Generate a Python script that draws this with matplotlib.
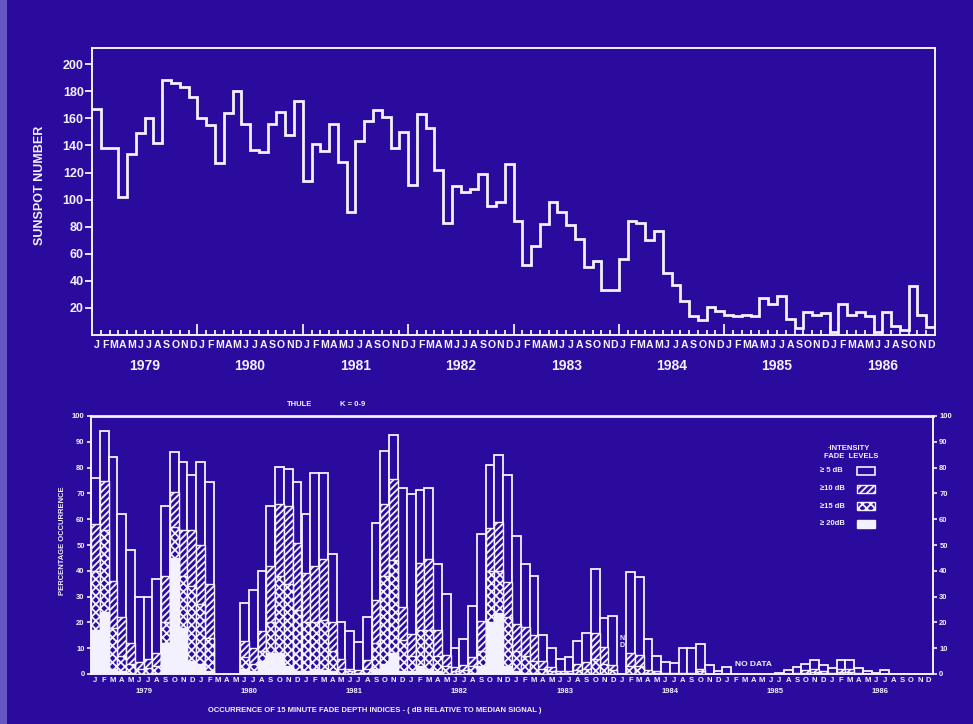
import numpy as np
import matplotlib
matplotlib.use("Agg")
import matplotlib.pyplot as plt
from matplotlib.patches import Rectangle

# ---------------------------------------------------------------- data
month_letters = list("JFMAMJJASOND")
years = ["1979", "1980", "1981", "1982", "1983", "1984", "1985", "1986"]

# Monthly sunspot number, Jan 1979 .. Dec 1986
sunspot = [
    167, 138, 138, 102, 134, 149, 160, 142, 188, 186, 183, 176,   # 1979
    160, 155, 127, 164, 180, 156, 137, 135, 156, 165, 148, 173,   # 1980
    114, 141, 136, 156, 128, 91, 143, 158, 166, 161, 138, 150,    # 1981
    111, 163, 153, 122, 83, 110, 106, 108, 119, 95, 98, 126,      # 1982
    84, 52, 66, 82, 98, 91, 81, 71, 50, 55, 33, 33,               # 1983
    56, 84, 83, 70, 77, 46, 37, 25, 14, 11, 21, 18,               # 1984
    15, 14, 15, 14, 27, 23, 29, 12, 5, 17, 15, 16,                # 1985
    2, 23, 15, 17, 14, 2, 17, 7, 4, 36, 15, 6,                    # 1986
]

# Thule, percentage occurrence of 15-minute fade depth indices (None = no data)
fade_5db = [
    76, 94, 84, 62, 48, 30, 30, 37, 65, 86, 82, 77,
    82, 74.5, None, None, None, 27.4, 32.6, 40, 65, 80.4, 79.3, 74.5,
    62, 77.8, 77.8, 46.5, 20, 16.7, 12.5, 22, 58.7, 86.6, 92.6, 72,
    69.8, 71.3, 72, 42.6, 31, 10.2, 13.4, 26.4, 54.3, 81, 85, 77,
    53.6, 42.6, 38, 15, 10, 5.7, 6.5, 12.8, 16, 40.7, 21.6, 22.6,
    None, 39.7, 37.5, 13.6, 7, 4.8, 4.1, 10, 10, 11.5, 3.5, 1.2,
    2.6, None, None, None, None, None, 0.5, 1.5, 2.8, 4, 5.6, 3.3,
    2.2, 5.3, 5.3, 2.2, 1.1, 0.5, 1.5, 0, 0, 0, 0, 0,
]
fade_10db = [
    58, 75, 36, 22, 12, 4.5, 6, 8, 38, 70.7, 56, 56,
    50, 35, None, None, None, 12.8, 10, 16.8, 42, 66, 65, 50.6,
    39, 42, 44.4, 20, 6, 2, 1.5, 5.4, 28.7, 66, 75.6, 26,
    15.4, 43, 44.6, 17, 7.4, 2.6, 3.5, 6.7, 20.7, 56.5, 59, 35.8,
    19.3, 18.3, 15, 5.2, 2.6, 1, 1, 3.7, 4.5, 16, 10.3, 3.5,
    None, 8, 7.4, 1.5, 1, 0.5, 0.5, 0.5, 0.5, 2, 0, 0,
    0, None, None, None, None, None, 0, 0, 0.5, 1.5, 2, 1,
    0.5, 2, 2, 0.5, 0, 0, 0, 0, 0, 0, 0, 0,
]
fade_15db = [
    40, 56, 18, 7, 4, 2, 2.5, 3, 20, 57, 38, 34,
    27, 14, None, None, None, 6.7, 4, 9, 20, 38, 35, 25,
    20, 20, 21, 9, 2, 1, 0.5, 2, 12, 38, 44, 13,
    7, 17, 17, 7, 3, 1, 1.5, 3, 9, 40, 40, 22,
    9, 7, 5, 2, 1, 0.5, 0.5, 1.5, 2, 6, 4, 1.5,
    None, 3, 3, 0.5, 0.3, 0, 0, 0, 0, 1, 0, 0,
    0, None, None, None, None, None, 0, 0, 0, 0.5, 0.8, 0.5,
    0, 0.8, 0.8, 0, 0, 0, 0, 0, 0, 0, 0, 0,
]
fade_20db = [
    17, 24, 2, 1, 0.5, 0, 0, 0.5, 12, 45, 18, 5,
    4, 1, None, None, None, 2, 1, 5, 8, 8, 3, 1,
    1, 2, 1.5, 1, 0, 0, 0, 0.5, 2, 4, 8, 1,
    1, 3, 2, 1, 0, 0, 0, 0.5, 3, 20, 23.5, 3,
    1, 0.5, 0.5, 0, 0, 0, 0, 0, 0, 0, 0, 0,
    None, 0, 0, 0, 0, 0, 0, 0, 0, 0, 0, 0,
    0, None, None, None, None, None, 0, 0, 0, 0, 0, 0,
    0, 0, 0, 0, 0, 0, 0, 0, 0, 0, 0, 0,
]

legend_labels = ["\u2265 5 dB", "\u226510 dB", "\u226515 dB", "\u2265 20dB"]

# ---------------------------------------------------------------- style
BG = "#2a0b9e"
FG = "#f3f1ff"
HATCH_10 = "/////"
HATCH_15 = "xxxx"

plt.rcParams["font.family"] = ["Liberation Sans", "DejaVu Sans"]
plt.rcParams["font.weight"] = "bold"
plt.rcParams["hatch.linewidth"] = 1.3
plt.rcParams["hatch.color"] = FG

W, H = 973, 724
fig = plt.figure(figsize=(W / 100, H / 100), dpi=100, facecolor=BG)


def fx(px):
    return px / W


def fy(py):
    return 1 - py / H


# lighter strip along the left edge of the slide
fig.add_artist(Rectangle((0, 0), fx(7), 1, transform=fig.transFigure,
                         facecolor="#6656c4", edgecolor="none", zorder=-5))

n_months = len(sunspot)

# ================================================================ sunspots
ax1 = fig.add_axes([fx(92), fy(335), fx(935) - fx(92), fy(48) - fy(335)])
ax1.set_facecolor(BG)
ax1.stairs(sunspot, np.arange(n_months + 1), baseline=None, color=FG, lw=2.0)
ax1.set_xlim(0, n_months)
ax1.set_ylim(0, 212)
for s in ax1.spines.values():
    s.set_color(FG)
    s.set_linewidth(1.4)

ax1.set_yticks(np.arange(20, 201, 20))
ax1.tick_params(axis="y", direction="out", length=5, width=1.3, colors=FG,
                labelsize=9, pad=1)
ax1.set_xticks(np.arange(12, n_months, 12))
ax1.set_xticks([m for m in range(1, n_months) if m % 12], minor=True)
ax1.tick_params(axis="x", which="major", direction="in", length=8, width=1.3,
                colors=FG, labelbottom=False)
ax1.tick_params(axis="x", which="minor", direction="in", length=3.5, width=1.3,
                colors=FG)

for i in range(n_months):
    ax1.annotate(month_letters[i % 12], xy=(i + 0.5, 0),
                 xycoords=("data", "axes fraction"), xytext=(0, -7.4),
                 textcoords="offset points", ha="center", va="center",
                 fontsize=7.6, color=FG)
for k, yr in enumerate(years):
    ax1.annotate(yr, xy=(12 * k + 6, 0), xycoords=("data", "axes fraction"),
                 xytext=(0, -22.5), textcoords="offset points", ha="center",
                 va="center", fontsize=10, color=FG)

fig.text(fx(40), fy(185), "SUNSPOT NUMBER", rotation=90, ha="center",
         va="center", fontsize=9, color=FG)

# ================================================================ fade depths
ax2 = fig.add_axes([fx(91), fy(674), fx(933) - fx(91), fy(416) - fy(674)])
ax2.set_facecolor(BG)
ax2.set_xlim(0, n_months)
ax2.set_ylim(0, 100)


def draw_level(values, **style):
    idx = [i for i, v in enumerate(values) if v is not None]
    ax2.bar([i + 0.5 for i in idx], [values[i] for i in idx], width=1.0,
            **style)


draw_level(fade_5db, facecolor=BG, edgecolor=FG, lw=1.3, zorder=2)
draw_level(fade_10db, facecolor=BG, edgecolor=FG, hatch=HATCH_10, lw=1.0,
           zorder=3)
draw_level(fade_15db, facecolor=BG, edgecolor=FG, hatch=HATCH_15, lw=1.0,
           zorder=4)
draw_level(fade_20db, facecolor=FG, edgecolor=FG, lw=1.0, zorder=5)

for s in ax2.spines.values():
    s.set_color(FG)
    s.set_linewidth(1.4)
ax2.spines["top"].set_linewidth(2.0)

ax2.set_yticks(np.arange(0, 101, 10))
ax2.set_xticks([])
ax2.tick_params(axis="y", direction="out", length=3, width=1.2, colors=FG,
                labelsize=5.5, pad=1.5)

ax2r = ax2.twinx()
ax2r.set_ylim(0, 100)
ax2r.set_yticks(np.arange(0, 101, 10))
ax2r.tick_params(axis="y", direction="out", length=3, width=1.2, colors=FG,
                 labelsize=5.5, pad=1.5)
for s in ax2r.spines.values():
    s.set_visible(False)

for i in range(n_months):
    ax2.annotate(month_letters[i % 12], xy=(i + 0.5, 0),
                 xycoords=("data", "axes fraction"), xytext=(0, -4.5),
                 textcoords="offset points", ha="center", va="center",
                 fontsize=5.5, color=FG)
for k, yr in enumerate(years):
    ax2.annotate(yr, xy=(12 * k + 6, 0), xycoords=("data", "axes fraction"),
                 xytext=(0, -12.5), textcoords="offset points", ha="center",
                 va="center", fontsize=5.5, color=FG)

ax2.text(75.5, 3.6, "NO DATA", ha="center", va="center", fontsize=6,
         color=FG, zorder=6)
ax2.text(60.5, 12.4, "N\nD", ha="center", va="center", fontsize=5,
         linespacing=1.0, color=FG, zorder=6)

fig.text(fx(300), fy(405), "THULE", ha="center", va="center", fontsize=5.5,
         color=FG)
fig.text(fx(353), fy(405), "K = 0-9", ha="center", va="center", fontsize=5.5,
         color=FG)
fig.text(fx(63), fy(541), "PERCENTAGE OCCURRENCE", rotation=90, ha="center",
         va="center", fontsize=5.5, color=FG)
fig.text(fx(375), fy(711),
         "OCCURRENCE OF 15 MINUTE FADE DEPTH INDICES - ( dB RELATIVE TO MEDIAN SIGNAL )",
         ha="center", va="center", fontsize=5.5, color=FG)

# legend for the intensity fade levels
fig.text(fx(849), fy(448), "\u00b7INTENSITY", ha="center", va="center",
         fontsize=5.5, color=FG)
fig.text(fx(851), fy(457), "FADE  LEVELS", ha="center", va="center",
         fontsize=5.5, color=FG)
legend_styles = [
    dict(facecolor=BG, edgecolor=FG, lw=1.2),
    dict(facecolor=BG, edgecolor=FG, hatch=HATCH_10, lw=1.0),
    dict(facecolor=BG, edgecolor=FG, hatch=HATCH_15, lw=1.0),
    dict(facecolor=FG, edgecolor=FG, lw=1.0),
]
for row, (lab, sty) in enumerate(zip(legend_labels, legend_styles)):
    yc = 471 + 17.5 * row
    fig.text(fx(820), fy(yc), lab, ha="left", va="center", fontsize=5.5,
             color=FG)
    fig.add_artist(Rectangle((fx(857), fy(yc + 4)), fx(875) - fx(857),
                             fy(yc - 4) - fy(yc + 4),
                             transform=fig.transFigure, **sty))

fig.savefig("out.png", dpi=100, facecolor=BG)
